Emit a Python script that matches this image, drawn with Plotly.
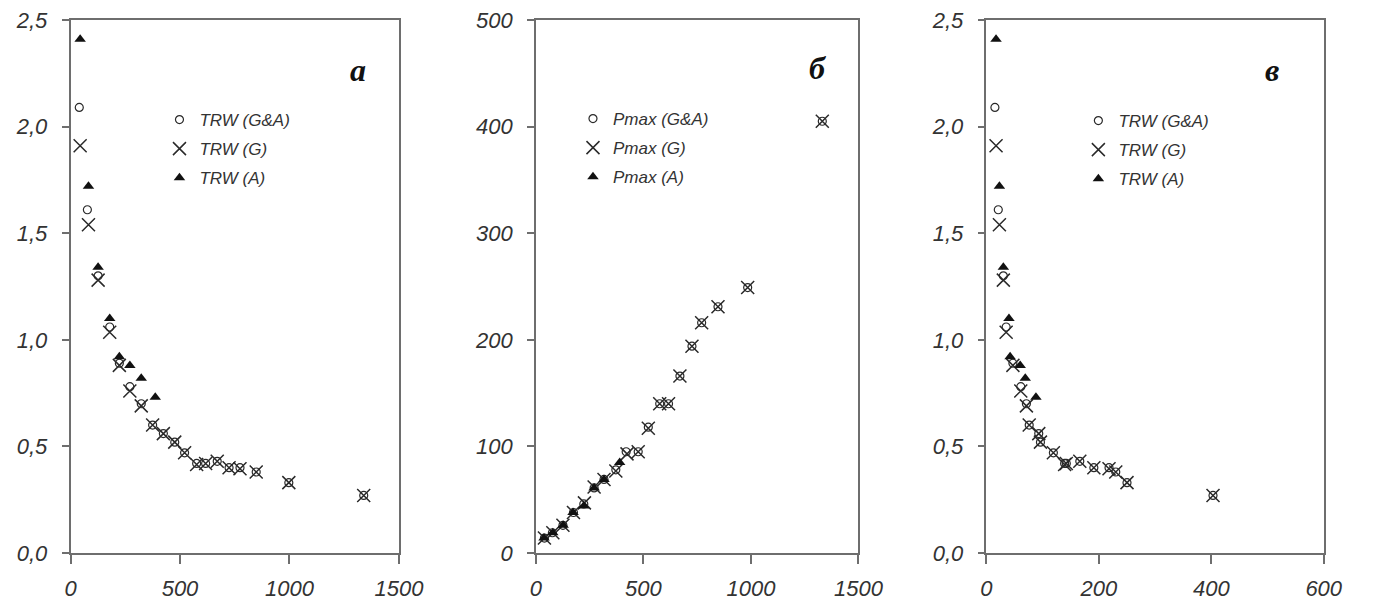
import plotly.graph_objects as go

# ---- data ----
# Panel a: TRW vs X
a_x_ga = [40, 77, 126, 179, 223, 271, 323, 375, 424, 476, 521, 576, 617, 670, 724, 774, 848, 997, 1339]
a_y_ga = [2.09, 1.61, 1.30, 1.06, 0.89, 0.78, 0.70, 0.60, 0.56, 0.52, 0.47, 0.42, 0.42, 0.43, 0.40, 0.40, 0.38, 0.33, 0.27]
a_x_g = [44, 82, 126, 179, 223, 271, 323, 375, 424, 476, 521, 576, 617, 670, 724, 774, 848, 997, 1339]
a_y_g = [1.91, 1.54, 1.28, 1.035, 0.88, 0.76, 0.69, 0.60, 0.56, 0.52, 0.47, 0.415, 0.42, 0.43, 0.40, 0.395, 0.38, 0.33, 0.27]
a_x_a = [44, 82, 126, 179, 223, 271, 323, 387]
a_y_a = [2.41, 1.72, 1.34, 1.10, 0.92, 0.88, 0.82, 0.73]

# Panel b: Pmax vs X
b_x_ga = [40, 77, 126, 175, 223, 271, 317, 372, 420, 476, 523, 576, 617, 670, 726, 771, 847, 985, 1332]
b_y_ga = [14, 19, 26, 38, 46, 61, 69, 78, 95, 95, 118, 140, 140, 166, 194, 216, 231, 249, 405]
b_x_g = [40, 79, 126, 175, 226, 271, 317, 372, 424, 476, 523, 576, 617, 670, 726, 771, 847, 985, 1332]
b_y_g = [14, 19, 26, 38, 47, 62, 69, 77, 93, 95, 117, 140, 140, 166, 194, 216, 231, 249, 405]
b_x_a = [38, 79, 127, 173, 223, 271, 317, 390]
b_y_a = [14, 19, 26, 38, 44, 61, 69, 85]

# Panel c: TRW vs X
c_x_ga = [15, 21, 30, 35, 47, 61, 71, 76, 93, 96, 119, 139, 142, 166, 191, 218, 230, 250, 403]
c_y_ga = a_y_ga
c_x_g = [17, 23, 30, 35, 47, 61, 71, 76, 93, 96, 119, 139, 142, 166, 191, 218, 230, 250, 403]
c_y_g = a_y_g
c_x_a = [17, 23, 30, 40, 42, 60, 69, 88]
c_y_a = a_y_a

labels_trw = ["TRW (G&A)", "TRW (G)", "TRW (A)"]
labels_p = ["Pmax (G&A)", "Pmax (G)", "Pmax (A)"]
panel_labels = ["a", "б", "в"]

W, H = 1381, 601
ML, MB, MT = 0, 48, 20
xdom = [[66 / W, 402 / W], [542 / W, 872 / W], [1003 / W, 1348 / W]]
xranges = [[0, 1500], [0, 1500], [0, 600]]
yranges = [[0, 2.5], [0, 500], [0, 2.5]]
xdticks = [500, 500, 200]
ydticks = [0.5, 100, 0.5]
yfmt = [".1f", "d", ".1f"]

ink = "#2a2a2a"
axis_col = "#6e6e6e"
text_col = "#333333"

fig = go.Figure()

series = [
    (a_x_ga, a_y_ga, a_x_g, a_y_g, a_x_a, a_y_a, labels_trw),
    (b_x_ga, b_y_ga, b_x_g, b_y_g, b_x_a, b_y_a, labels_p),
    (c_x_ga, c_y_ga, c_x_g, c_y_g, c_x_a, c_y_a, labels_trw),
]

for i, (xga, yga, xg, yg, xa, ya, labs) in enumerate(series):
    xa_name = "x" if i == 0 else f"x{i+1}"
    ya_name = "y" if i == 0 else f"y{i+1}"
    lg = "legend" if i == 0 else f"legend{i+1}"
    fig.add_trace(go.Scatter(
        x=xga, y=yga, mode="markers", name=labs[0], xaxis=xa_name, yaxis=ya_name,
        legend=lg, legendgroup=f"{i}ga",
        marker=dict(symbol="circle-open", size=8, color=ink, line=dict(width=1.2, color=ink))))
    fig.add_trace(go.Scatter(
        x=xg, y=yg, mode="markers", name=labs[1], xaxis=xa_name, yaxis=ya_name,
        legend=lg, legendgroup=f"{i}g",
        marker=dict(symbol="x-thin-open", size=13, color=ink, line=dict(width=1.5, color=ink))))
    fig.add_trace(go.Scatter(
        x=xa, y=ya, mode="markers", name=labs[2], xaxis=xa_name, yaxis=ya_name,
        legend=lg, legendgroup=f"{i}a",
        marker=dict(symbol="triangle-up", size=10, color="#111111", line=dict(width=0))))

tickfont = dict(family="Liberation Sans, Arial, sans-serif", size=22, color=text_col, style="italic")
layout = dict(
    width=W, height=H,
    margin=dict(l=ML, r=0, t=MT, b=MB),
    paper_bgcolor="white", plot_bgcolor="white",
    separators=", ",
    showlegend=True,
)
for i in range(3):
    sx = "xaxis" if i == 0 else f"xaxis{i+1}"
    sy = "yaxis" if i == 0 else f"yaxis{i+1}"
    xa_name = "x" if i == 0 else f"x{i+1}"
    ya_name = "y" if i == 0 else f"y{i+1}"
    layout[sx] = dict(domain=xdom[i], range=xranges[i], anchor=ya_name,
                      tick0=0, dtick=xdticks[i], ticks="outside", ticklen=9, tickwidth=1.5,
                      tickcolor=axis_col, showline=True, linecolor=axis_col, linewidth=1.5,
                      mirror=True, showgrid=False, zeroline=False, tickfont=tickfont,
                      ticklabelstandoff=6)
    layout[sy] = dict(domain=[0, 1], range=yranges[i], anchor=xa_name,
                      tick0=0, dtick=ydticks[i], ticks="outside", ticklen=7, tickwidth=1.5,
                      tickcolor=axis_col, showline=True, linecolor=axis_col, linewidth=1.5,
                      mirror=True, showgrid=False, zeroline=False, tickfont=tickfont,
                      tickformat=yfmt[i], ticklabelstandoff=10)

plot_h = H - MT - MB
legend_pos = [(157, 102), (580, 101), (1097, 103)]
for i, (px, py) in enumerate(legend_pos):
    key = "legend" if i == 0 else f"legend{i+1}"
    layout[key] = dict(x=px / W, y=(H - MB - py) / plot_h, xanchor="left", yanchor="top",
                       bgcolor="rgba(0,0,0,0)", borderwidth=0,
                       font=dict(family="Liberation Sans, Arial, sans-serif", size=17,
                                 color=text_col, style="italic"),
                       traceorder="grouped", tracegroupgap=4, itemwidth=30)

fig.update_layout(**layout)

label_pos = [(360, 70), (831, 68), (1295, 70)]
for lab, (px, py) in zip(panel_labels, label_pos):
    fig.add_annotation(text=f"<b><i>{lab}</i></b>", x=px / W, y=(H - MB - py) / plot_h,
                       xref="paper", yref="paper", xanchor="center", yanchor="middle",
                       showarrow=False,
                       font=dict(family="Liberation Serif, Times New Roman, serif", size=32, color="#111111"))

fig.write_html("out.html")
